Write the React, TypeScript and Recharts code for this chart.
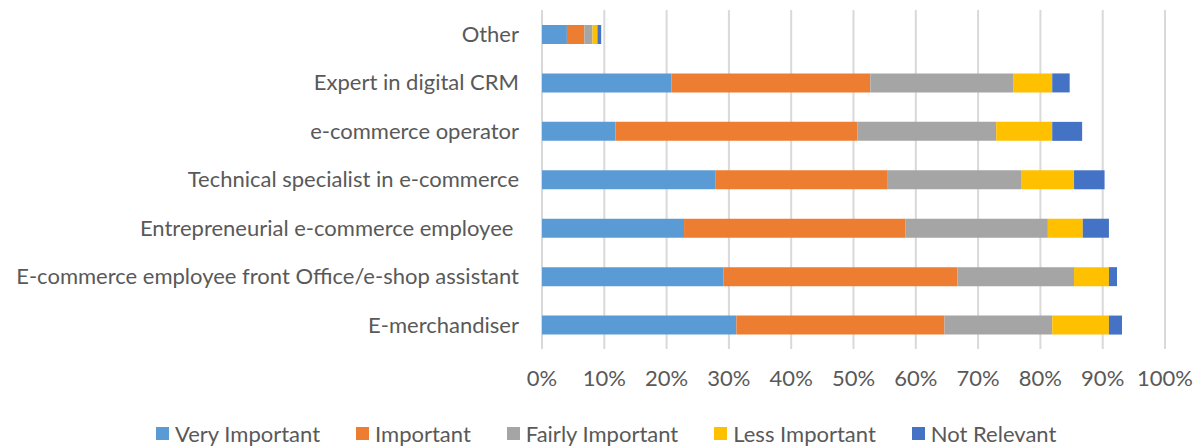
import React from "react";
import { BarChart, Bar, XAxis, YAxis, CartesianGrid, Legend } from "recharts";

const categories = [
  "Other",
  "Expert in digital CRM",
  "e-commerce operator",
  "Technical specialist in e-commerce",
  "Entrepreneurial e-commerce employee\u00a0",
  "E-commerce employee front Office/e-shop assistant",
  "E-merchandiser",
];

// percent of respondents, top row first
const veryImportant = [4.0, 20.8, 11.8, 27.8, 22.8, 29.1, 31.2];
const important = [2.8, 31.9, 38.8, 27.7, 35.5, 37.6, 33.4];
const fairlyImportant = [1.3, 23.0, 22.3, 21.5, 22.9, 18.7, 17.3];
const lessImportant = [0.8, 6.2, 9.0, 8.4, 5.6, 5.6, 9.1];
const notRelevant = [0.6, 2.8, 4.8, 4.9, 4.2, 1.3, 2.1];

const xTicks = [0, 10, 20, 30, 40, 50, 60, 70, 80, 90, 100];

const series = [
  { key: "veryImportant", label: "Very Important", color: "#5B9BD5" },
  { key: "important", label: "Important", color: "#ED7D31" },
  { key: "fairlyImportant", label: "Fairly Important", color: "#A5A5A5" },
  { key: "lessImportant", label: "Less Important", color: "#FFC000" },
  { key: "notRelevant", label: "Not Relevant", color: "#4472C4" },
];

const data = categories.map((name, i) => ({
  name,
  veryImportant: veryImportant[i],
  important: important[i],
  fairlyImportant: fairlyImportant[i],
  lessImportant: lessImportant[i],
  notRelevant: notRelevant[i],
}));

const FONT = "Lato, 'Open Sans', sans-serif";
const TEXT = "#595959";
const FS = 22;

function LegendRow() {
  return (
    <div
      style={{
        display: "flex",
        alignItems: "center",
        height: 26,
        marginTop: 21,
        paddingLeft: 156,
        fontFamily: FONT,
        fontSize: FS,
        color: TEXT,
        whiteSpace: "nowrap",
      }}
    >
      {series.map((s) => (
        <div key={s.key} style={{ display: "flex", alignItems: "center", marginRight: 36 }}>
          <span style={{ width: 13, height: 13, background: s.color, marginRight: 6, display: "inline-block" }} />
          <span>{s.label}</span>
        </div>
      ))}
    </div>
  );
}

export default function App() {
  return (
    <div style={{ position: "absolute", left: 0, top: 0, width: 1195, height: 446, background: "#fff" }}>
      <BarChart
        width={1195}
        height={446}
        data={data}
        layout="vertical"
        margin={{ top: 10, right: 30, left: 0, bottom: 0 }}
        barSize={19}
      >
        <CartesianGrid horizontal={false} stroke="#D9D9D9" strokeWidth={2} />
        <XAxis
          type="number"
          domain={[0, 100]}
          ticks={xTicks}
          tickFormatter={(v) => `${v}%`}
          axisLine={false}
          tickLine={false}
          tickSize={0}
          tickMargin={21}
          height={50}
          interval={0}
          tick={{ fill: TEXT, fontSize: FS, fontFamily: FONT }}
        />
        <YAxis
          type="category"
          dataKey="name"
          width={542}
          axisLine={false}
          tickLine={false}
          tickSize={0}
          tickMargin={23}
          interval={0}
          tick={{ fill: TEXT, fontSize: FS, fontFamily: FONT }}
        />
        <Legend
          verticalAlign="bottom"
          content={() => <LegendRow />}
          wrapperStyle={{ left: 0, width: 1195, height: 47 }}
        />
        {series.map((s) => (
          <Bar key={s.key} dataKey={s.key} name={s.label} stackId="a" fill={s.color} isAnimationActive={false} />
        ))}
      </BarChart>
    </div>
  );
}
